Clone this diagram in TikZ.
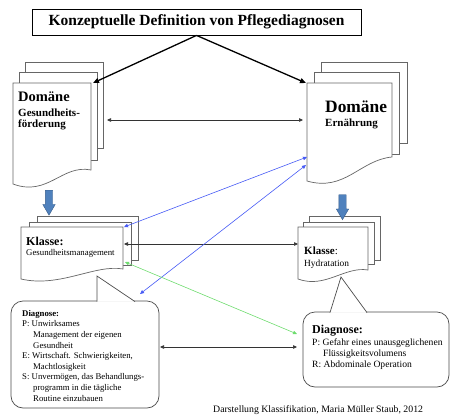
\documentclass[tikz,border=0pt]{standalone}
\usepackage{fontspec}
\setmainfont{Liberation Serif}
\usetikzlibrary{arrows.meta,shapes.arrows}

\definecolor{linkblue}{RGB}{70,90,245}
\definecolor{linkgreen}{RGB}{110,220,110}
\definecolor{arrowfill}{RGB}{79,129,189}
\definecolor{arrowline}{RGB}{56,93,138}

\begin{document}
\begin{tikzpicture}[x=1pt,y=-1pt,
	page/.style={draw=black!60, fill=white, line width=0.7pt},
	link/.style={{Triangle[length=4pt,width=3.5pt]}-{Triangle[length=4pt,width=3.5pt]}, line width=0.6pt, draw=black!80},
	downarrow/.style={single arrow, draw=arrowline, fill=arrowfill, rotate=-90, inner sep=3.5pt,
		minimum height=25pt, single arrow head extend=2.5pt, single arrow tip angle=60},
	bubble/.style={draw=black!70, fill=white, line width=0.7pt},
	txt/.style={anchor=base west, inner sep=0pt, align=left},
]
\useasboundingbox (0,0) rectangle (451,416);

\node[draw, line width=0.8pt, minimum width=329pt, minimum height=26pt, font=\bfseries\fontsize{15.5}{16}\selectfont] (title) at (196.5,22) {Konzeptuelle Definition von Pflegediagnosen};

% Domaenen
\draw[page] (25,62) rectangle (103,148);
\draw[page] (19,72) rectangle (97,160);
\draw[page] (13,83) -- (91,83) -- (91,170) .. controls (62,164) and (48,197) .. (13,184) -- cycle;
\node[txt, font=\bfseries\fontsize{14.5}{15}\selectfont] (domLname) at (18,101) {Domäne};
\node[txt, font=\bfseries\fontsize{11}{11}\selectfont] (domLsub) at (18,127) {Gesundheits-\\förderung};

\draw[page] (321,62) rectangle (407,143);
\draw[page] (314,72) rectangle (399,154);
\draw[page] (307,83) -- (392,83) -- (392,157) .. controls (360,160) and (345,192) .. (307,181) -- cycle;
\node[txt, font=\bfseries\fontsize{17.4}{18}\selectfont] (domRname) at (325,112) {Domäne};
\node[txt, font=\bfseries\fontsize{11}{11}\selectfont] (domRsub) at (325,126) {Ernährung};

% Klassen
\draw[page] (37,216) rectangle (138,260);
\draw[page] (29,222) rectangle (131,265);
\draw[page] (21,227) -- (123,227) -- (123,269) .. controls (95,264) and (60,288) .. (21,279) -- cycle;
\node[txt, font=\bfseries\fontsize{12}{12}\selectfont] (klLname) at (26,245) {Klasse:};
\node[txt, font=\fontsize{8.8}{9}\selectfont] (klLsub) at (26,255) {Gesundheitsmanagement};

\draw[page] (309,216) rectangle (380,260);
\draw[page] (303,222) rectangle (374,264);
\draw[page] (298,227) -- (368,227) -- (368,270) .. controls (345,266) and (325,289) .. (298,279) -- cycle;
\node[txt, font=\fontsize{11}{11}\selectfont] (klRname) at (304,254) {\textbf{Klasse}:};
\node[txt, font=\fontsize{9.4}{10}\selectfont] (klRsub) at (304,266) {Hydratation};

\node[downarrow] (dnL) at (49,199.5) {};
\node[downarrow] (dnR) at (342.5,204) {};

% Diagnosen
\draw[bubble, rounded corners=12pt] (11,301) rectangle (159,408);
\draw[bubble, draw=none] (97,301.6) -- (97,276) -- (135,301.6) -- cycle;
\draw[bubble] (97,301.6) -- (97,276) -- (135,301.6);
\node[txt, font=\fontsize{8.75}{10.6}\selectfont] (diagL) at (22,401) {\textbf{Diagnose:}\\
P: Unwirksames\\\hspace*{11pt}Management der eigenen\\\hspace*{11pt}Gesundheit\\
E: Wirtschaft. Schwierigkeiten,\\\hspace*{11pt}Machtlosigkeit\\
S: Unvermögen, das Behandlungs-\\\hspace*{11pt}programm in die tägliche\\\hspace*{11pt}Routine einzubauen};

\draw[bubble, rounded corners=12pt] (303,312) rectangle (449,387);
\draw[bubble, draw=none] (330,312.6) -- (341,277) -- (367,312.6) -- cycle;
\draw[bubble] (330,312.6) -- (341,277) -- (367,312.6);
\node[txt, font=\bfseries\fontsize{12}{12}\selectfont] (diagRhead) at (312,333) {Diagnose:};
\node[txt, font=\fontsize{9.6}{11}\selectfont] (diagR) at (312,367) {P: Gefahr eines unausgeglichenen\\\hspace*{11pt}Flüssigkeitsvolumens\\R: Abdominale Operation};

\node[txt, font=\fontsize{9.8}{10}\selectfont] (credit) at (213,412) {Darstellung Klassifikation, Maria Müller Staub, 2012};

% Verbindungen
\coordinate (domLtop) at (93,83);
\coordinate (domRtop) at (306,83);
\coordinate (domLside) at (107,120);
\coordinate (domRside) at (303,120);
\coordinate (domRin1) at (307,157);
\coordinate (domRin2) at (306,165);
\coordinate (klLtop) at (124,227);
\coordinate (klLmid) at (124,244);
\coordinate (klLbot) at (125,262);
\coordinate (klRside) at (298,244);
\coordinate (diagLtop) at (140,294);
\coordinate (diagLside) at (160,347);
\coordinate (diagRside) at (297,347);
\coordinate (diagRin) at (297,334);

\draw[line width=1.3pt, -{Triangle[length=6pt,width=5pt]}] (title.south) -- (domLtop);
\draw[line width=1.3pt, -{Triangle[length=6pt,width=5pt]}] (title.south) -- (domRtop);
\draw[link] (domLside) -- (domRside);
\draw[link] (klLmid) -- (klRside);
\draw[link] (diagLside) -- (diagRside);
\draw[link, draw=linkblue] (klLtop) -- (domRin1);
\draw[link, draw=linkblue] (diagLtop) -- (domRin2);
\draw[link, draw=linkgreen] (klLbot) -- (diagRin);
\end{tikzpicture}
\end{document}
